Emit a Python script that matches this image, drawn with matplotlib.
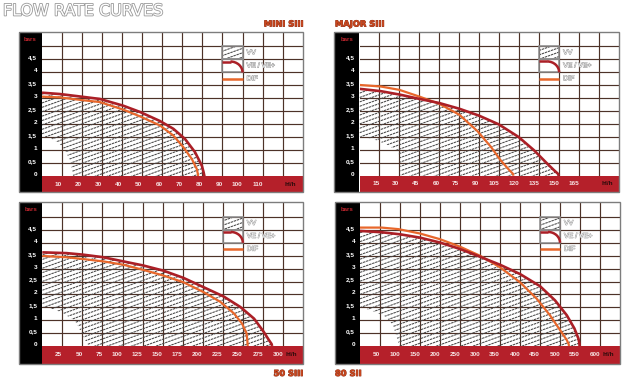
import numpy as np
import matplotlib.pyplot as plt
from matplotlib.patches import Rectangle, Polygon, Arc
from matplotlib.collections import LineCollection
from matplotlib.transforms import blended_transform_factory
import matplotlib.patheffects as pe

W_PX, H_PX = 635, 379

# values (x in hl/h, y in bars)
y_tick_vals = [0, 0.5, 1, 1.5, 2, 2.5, 3, 3.5, 4, 4.5]
y_tick_labels = ['0', '0,5', '1', '1,5', '2', '2,5', '3', '3,5', '4', '4,5']

mini_xticks = [10, 20, 30, 40, 50, 60, 70, 80, 90, 100, 110]
mini_ve_x = [0, 8.8, 20.5, 28.8, 40.5, 48.8, 58.8, 65.5, 71.3, 76.3, 79.7, 80.6, 81]
mini_ve_y = [3.22, 3.17, 3.06, 2.98, 2.72, 2.48, 2.13, 1.83, 1.44, 0.93, 0.41, 0.15, 0]
mini_dif_x = [0, 8.8, 20.5, 28.8, 40.5, 48.8, 58.8, 65.5, 70.5, 74.7, 77.2, 77.7, 77.8]
mini_dif_y = [3.07, 3.04, 2.93, 2.86, 2.57, 2.31, 1.96, 1.57, 1.12, 0.67, 0.28, 0.1, 0]
mini_vv_low_x = [15.5, 14.2, 11.7, 8.3, 4, 0]
mini_vv_low_y = [0, 0.58, 0.97, 1.29, 1.48, 1.54]

major_xticks = [15, 30, 45, 60, 75, 90, 105, 120, 135, 150, 165]
major_ve_x = [0, 16, 30, 45, 60, 75, 89.5, 104.5, 119.5, 131, 141, 146, 149, 150]
major_ve_y = [3.36, 3.27, 3.14, 2.97, 2.81, 2.59, 2.33, 1.99, 1.5, 0.99, 0.47, 0.22, 0.08, 0]
major_dif_x = [0, 16, 30, 45, 60, 75, 88.7, 98.7, 106, 112.5, 115.2, 115.8]
major_dif_y = [3.51, 3.45, 3.32, 3.06, 2.78, 2.36, 1.72, 1.12, 0.6, 0.22, 0.08, 0]
major_vv_low_x = [31, 30.5, 29, 20, 10, 0]
major_vv_low_y = [0, 0.57, 0.95, 1.22, 1.42, 1.52]

s50_xticks = [25, 50, 75, 100, 125, 150, 175, 200, 225, 250, 275, 300]
s50_ve_x = [0, 30.4, 51, 76, 101, 126, 151, 176, 201, 226, 247, 264, 276, 282.5, 285.8, 286.5]
s50_ve_y = [3.63, 3.6, 3.54, 3.44, 3.28, 3.12, 2.92, 2.64, 2.28, 1.92, 1.51, 1.06, 0.55, 0.23, 0.08, 0]
s50_dif_x = [0, 30.4, 51, 76, 101, 126, 151, 176, 201, 222, 239, 249, 254.6, 255.7, 256]
s50_dif_y = [3.49, 3.44, 3.37, 3.28, 3.15, 2.95, 2.73, 2.47, 2.09, 1.71, 1.26, 0.87, 0.49, 0.2, 0]
s50_vv_low_x = [57.5, 49, 43, 36.7, 26, 15.8, 0]
s50_vv_low_y = [0, 0.49, 0.87, 1.06, 1.26, 1.41, 1.52]

s80_xticks = [50, 100, 150, 200, 250, 300, 350, 400, 450, 500, 550, 600]
s80_ve_x = [0, 54, 100, 150, 200, 250, 300, 350, 400, 450, 487.5, 517, 536, 546, 548.5, 549]
s80_ve_y = [4.46, 4.41, 4.33, 4.2, 4.01, 3.76, 3.46, 3.15, 2.79, 2.32, 1.77, 1.19, 0.68, 0.29, 0.1, 0]
s80_dif_x = [0, 54, 96, 150, 200, 250, 300, 350, 400, 442, 475, 500, 517, 521.5, 522.5]
s80_dif_y = [4.59, 4.59, 4.53, 4.36, 4.14, 3.85, 3.5, 3.05, 2.47, 1.83, 1.19, 0.62, 0.23, 0.08, 0]
s80_vv_low_x = [98, 91.6, 87.5, 83, 75, 62, 33, 0]
s80_vv_low_y = [0, 0.36, 0.56, 0.76, 0.96, 1.15, 1.35, 1.52]

RED = '#ab1f26'
ORANGE = '#e8672b'
BAND = '#b5202a'
GRID = '#4d3228'
HATCH = '#474747'
BORDER = '#7d7d7d'
LEG_EDGE = '#8e8e8e'
NAME_COL = '#c9471e'
TICKFONT = dict(family='Liberation Sans', weight='bold', size=4.6)

fig = plt.figure(figsize=(6.35, 3.79), dpi=100)
fig.patch.set_facecolor('white')


def px_rect(x0, y0, x1, y1, **kw):
    return Rectangle((x0 / W_PX, 1 - y1 / H_PX), (x1 - x0) / W_PX, (y1 - y0) / H_PX,
                     transform=fig.transFigure, **kw)


def add_hatch(ax, patch, wpx, hpx):
    slope = 0.36 * wpx / hpx
    dy = 4.4 / hpx
    segs = []
    y0 = -slope
    while y0 < 1:
        segs.append([(0, y0), (1, y0 + slope)])
        y0 += dy
    lc = LineCollection(segs, transform=ax.transAxes, colors=HATCH, linewidths=0.75,
                        linestyles=[(0, (2.4, 0.7))], zorder=2)
    lc.set_clip_path(patch)
    ax.add_collection(lc, autolim=False)


def panel(L, S, R, T, B, Bt, step, xticks, ve_x, ve_y, dif_x, dif_y, low_x, low_y):
    ytop = 5.57
    fig.add_artist(px_rect(L, T, S, Bt, facecolor='black', edgecolor='none', zorder=-1))
    fig.add_artist(px_rect(S, B, R, Bt, facecolor=BAND, edgecolor='none', zorder=-1))
    fig.add_artist(px_rect(L, T, R, Bt, fill=False, edgecolor=BORDER, lw=1.0, zorder=5))

    ax = fig.add_axes([S / W_PX, 1 - B / H_PX, (R - S) / W_PX, (B - T) / H_PX])
    ax.set_facecolor('white')
    for sp in ax.spines.values():
        sp.set_visible(False)
    ax.set_xlim(0, 13 * step)
    ax.set_ylim(0, ytop)

    for k in range(1, 13):
        ax.axvline(k * step, color=GRID, lw=0.85, zorder=1)
    for v in np.arange(0.5, 5.01, 0.5):
        ax.axhline(v, color=GRID, lw=0.85, zorder=1)

    # VV area
    vv = Polygon(np.column_stack([list(ve_x) + list(low_x), list(ve_y) + list(low_y)]),
                 closed=True, facecolor='none', edgecolor='none')
    ax.add_patch(vv)
    add_hatch(ax, vv, R - S, B - T)

    ax.plot(dif_x, dif_y, color=ORANGE, lw=1.6, zorder=3, solid_capstyle='butt')
    ax.plot(ve_x, ve_y, color=RED, lw=1.9, zorder=3.2, solid_capstyle='butt')

    # legend drawn in the grid cells
    x0 = 9 * step
    cell_clip = Polygon([(x0, 4.5), (x0 + step, 4.5), (x0 + step, 5.0), (x0, 5.0)],
                        closed=True, facecolor='none', edgecolor='none')
    ax.add_patch(cell_clip)
    add_hatch(ax, cell_clip, R - S, B - T)
    ax.add_patch(Rectangle((x0, 4.5), step, 0.5, facecolor='none', edgecolor=LEG_EDGE, lw=1.1, zorder=3))
    ax.add_patch(Rectangle((x0, 4.0), step, 0.5, facecolor='none', edgecolor=LEG_EDGE, lw=1.1, zorder=3))
    ax.plot([x0, x0 + 0.4 * step], [4.42, 4.42], color=RED, lw=1.8, zorder=3.5, solid_capstyle='butt')
    ax.add_patch(Arc((x0 + 0.4 * step, 4.0), 1.2 * step, 0.84, theta1=0, theta2=90,
                     color=RED, lw=1.8, zorder=3.5))
    ax.plot([x0, x0 + step], [3.75, 3.75], color=ORANGE, lw=1.8, zorder=3.5, solid_capstyle='butt')
    outline = [pe.withStroke(linewidth=0.7, foreground='#9c9c9c')]
    for txt, yv in [('VV', 4.75), ('VE / VE+', 4.25), ('DIF', 3.75)]:
        ax.text(x0 + step * 1.2, yv, txt, va='center', ha='left', color='white',
                family='Liberation Sans', size=5, path_effects=outline, zorder=4)

    # ticks
    ax.set_xticks(xticks)
    ax.set_xticklabels([str(v) for v in xticks], **TICKFONT)
    ax.set_yticks(y_tick_vals)
    ax.set_yticklabels(y_tick_labels, **TICKFONT)
    band_mid = (Bt - B) / 2 * 0.72
    ax.tick_params(axis='x', length=0, pad=band_mid, labelcolor='#f6e4e4')
    ax.tick_params(axis='y', length=0, pad=3.6, labelcolor='white')
    for t in ax.get_xticklabels():
        t.set_ha('right')
        t.set_va('center')
    for t in ax.get_yticklabels():
        t.set_va('baseline')

    tr = blended_transform_factory(ax.transData, ax.transAxes)
    ax.text(12.4 * step, -(Bt - B) / 2 / (B - T), 'hl/h', transform=tr, ha='center', va='center',
            color='#2b0b0b', **TICKFONT)
    fig.text((L + S) / 2 / W_PX, 1 - (T + 7.5) / H_PX, 'bars', ha='center', va='center',
             color='#c0262e', family='Liberation Sans', weight='bold', size=4.4)
    return ax


panel(19, 42, 302.7, 31.7, 176.3, 192, 10, mini_xticks,
      mini_ve_x, mini_ve_y, mini_dif_x, mini_dif_y, mini_vv_low_x, mini_vv_low_y)
panel(334, 359.5, 619, 31.7, 175.7, 191.5, 15, major_xticks,
      major_ve_x, major_ve_y, major_dif_x, major_dif_y, major_vv_low_x, major_vv_low_y)
panel(19, 42.3, 303, 202.3, 346, 363.5, 25, s50_xticks,
      s50_ve_x, s50_ve_y, s50_dif_x, s50_dif_y, s50_vv_low_x, s50_vv_low_y)
panel(335, 360, 620, 202.3, 346, 364, 50, s80_xticks,
      s80_ve_x, s80_ve_y, s80_dif_x, s80_dif_y, s80_vv_low_x, s80_vv_low_y)

name_style = dict(color=NAME_COL, weight='bold', size=6, va='center',
                  path_effects=[pe.withStroke(linewidth=0.6, foreground='#8a2a12')])
fig.text(303 / W_PX, 1 - 24 / H_PX, 'MINI SIII', ha='right', **name_style)
fig.text(335 / W_PX, 1 - 24 / H_PX, 'MAJOR SIII', ha='left', **name_style)
fig.text(303 / W_PX, 1 - 373.5 / H_PX, '50 SIII', ha='right', **name_style)
fig.text(335 / W_PX, 1 - 373.5 / H_PX, '80 SII', ha='left', **name_style)

fig.text(3 / W_PX, 1 - 11 / H_PX, 'FLOW RATE CURVES', ha='left', va='center', color='white',
         size=11.5, path_effects=[pe.withStroke(linewidth=1.2, foreground='#9a9a9a')])

fig.savefig('out.png', dpi=100)
